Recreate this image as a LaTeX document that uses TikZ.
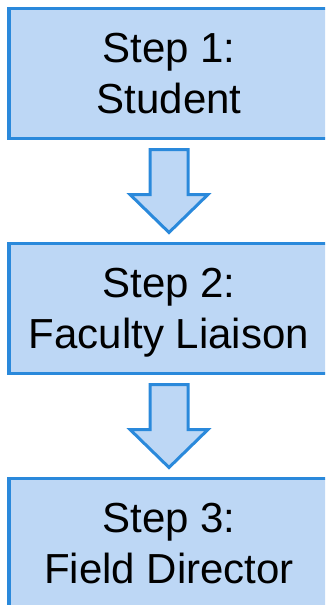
\documentclass[tikz,border=0pt]{standalone}
\usepackage{fontspec}
\setmainfont{Liberation Sans}
\usetikzlibrary{calc,positioning}
\definecolor{box_fill}{RGB}{189,215,245}
\definecolor{box_edge}{RGB}{42,137,219}

\begin{document}
\begin{tikzpicture}[x=1pt,y=1pt]
    \tikzset{stepbox/.style={draw=box_edge, fill=box_fill, line width=3.5pt, rectangle,
        minimum width=320pt, minimum height=130pt, outer sep=0pt, inner sep=0pt,
        align=center, text depth=0pt, font=\fontsize{42}{51}\selectfont}}
    \tikzset{downarrow/.style={draw=box_edge, fill=box_fill, line width=3pt, line join=miter}}

    \clip (0,0) rectangle (325,-605);

    \node[stepbox] (s1) at (169,-73.5) {Step 1:\\Student};
    \node[stepbox, below=105pt of s1] (s2) {Step 2:\\Faculty Liaison};
    \node[stepbox, below=105pt of s2] (s3) {Step 3:\\Field Director};

%   block arrows between the steps
    \foreach \a/\b in {s1/s2,s2/s3} {
      \coordinate (m) at ($(\a.south)!0.5!(\b.north)$);
      \draw[downarrow] (m) ++(-19,41.5) -- ++(38,0) -- ++(0,-45) -- ++(20,0)
        -- ++(-39,-38) -- ++(-39,38) -- ++(20,0) -- cycle;
    }
\end{tikzpicture}
\end{document}
